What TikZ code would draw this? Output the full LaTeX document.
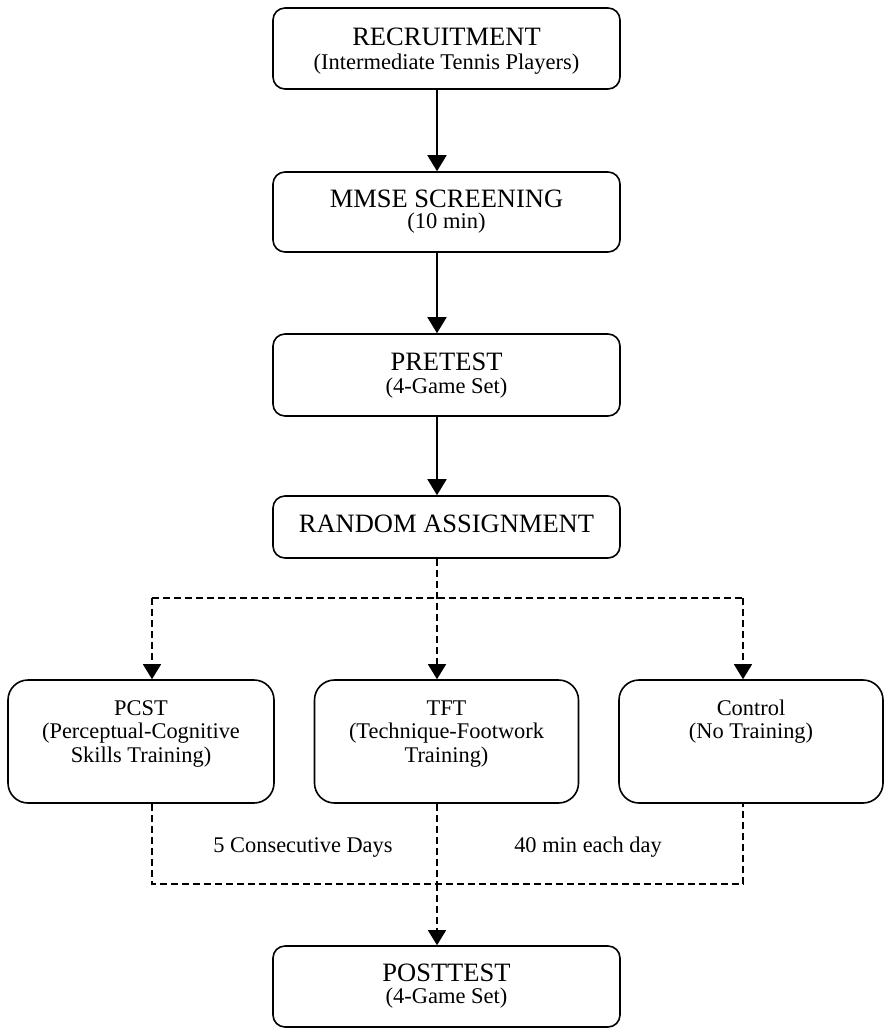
\documentclass[tikz,border=0pt]{standalone}
\usepackage{fontspec}
\setmainfont{Liberation Serif}
\usetikzlibrary{arrows.meta,calc}
\begin{document}
\begin{tikzpicture}[x=1pt,y=-1pt,
 box/.style={draw, rounded corners=12pt, line width=1.6pt, minimum width=347pt, inner sep=0pt},
 gbox/.style={draw, rounded corners=20pt, line width=1.6pt, minimum width=265pt, minimum height=123pt, inner sep=0pt},
 ttl/.style={font=\fontsize{26.5}{28}\selectfont, anchor=base, inner sep=0pt},
 sub/.style={font=\fontsize{22.5}{24}\selectfont, anchor=base, inner sep=0pt},
 gtxt/.style={font=\fontsize{22.4}{24}\selectfont, anchor=base, inner sep=0pt},
 arr/.style={line width=1.8pt, -{Triangle[length=16pt,width=19pt]}},
 darr/.style={line width=1.3pt, dash pattern=on 7pt off 4pt, -{Triangle[length=15pt,width=18pt]}},
 dln/.style={line width=1.3pt, dash pattern=on 7pt off 4pt}]
\useasboundingbox[fill=white] (0,0) rectangle (884,1028);

% boxes
\node[box, minimum height=81pt] (rec) at (446.5,48.5) {};
\node[box, minimum height=80pt] (mmse) at (446.5,212) {};
\node[box, minimum height=82pt] (pre) at (446.5,375) {};
\node[box, minimum height=62pt] (rand) at (446.5,527) {};
\node[gbox, minimum width=266pt] (pcst) at (141,741.5) {};
\node[gbox, minimum width=264pt] (tft) at (446.5,741.5) {};
\node[gbox, minimum width=264pt] (ctrl) at (751,741.5) {};
\node[box, minimum height=81pt] (post) at (446.5,986.5) {};

% texts
\node[ttl] (recT) at (446.5,45) {RECRUITMENT};
\node[sub] (recS) at (446.5,69) {(Intermediate Tennis Players)};
\node[ttl] (mmseT) at (446.5,207) {MMSE SCREENING};
\node[sub] (mmseS) at (446.5,228.5) {(10 min)};
\node[ttl] (preT) at (446.5,370) {PRETEST};
\node[sub] (preS) at (446.5,393) {(4-Game Set)};
\node[ttl] (randT) at (446.5,532) {RANDOM ASSIGNMENT};
\node[ttl] (postT) at (446.5,981.5) {POSTTEST};
\node[sub] (postS) at (446.5,1003) {(4-Game Set)};

\node[gtxt] (pcst1) at (141,715) {PCST};
\node[gtxt] (pcst2) at (141,738.5) {(Perceptual-Cognitive};
\node[gtxt] (pcst3) at (141,762.5) {Skills Training)};
\node[gtxt] (tft1) at (446.5,715) {TFT};
\node[gtxt] (tft2) at (446.5,738.5) {(Technique-Footwork};
\node[gtxt] (tft3) at (446.5,762.5) {Training)};
\node[gtxt] (ctrl1) at (751,715) {Control};
\node[gtxt] (ctrl2) at (751,738.5) {(No Training)};

\node[gtxt] (lab1) at (303,852) {5 Consecutive Days};
\node[gtxt] (lab2) at (588,852) {40 min each day};

% solid arrows
\draw[arr] ([xshift=-9.5pt]rec.south) -- ([xshift=-9.5pt]mmse.north);
\draw[arr] ([xshift=-9.5pt]mmse.south) -- ([xshift=-9.5pt]pre.north);
\draw[arr] ([xshift=-9.5pt]pre.south) -- ([xshift=-9.5pt]rand.north);

% dashed split
\coordinate (sl) at (152,598);
\coordinate (sr) at (743,598);
\draw[darr] ([xshift=-9.5pt]rand.south) -- ([xshift=-9.5pt]tft.north);
\draw[dln] (sl) -- (sr);
\draw[darr] (sl) -- (pcst.north -| sl);
\draw[darr] (sr) -- (ctrl.north -| sr);

% dashed merge
\coordinate (bl) at (152,884);
\coordinate (br) at (743,884);
\coordinate (bm) at (437,884);
\draw[dln] (pcst.south -| bl) -- (bl) -- (br) -- (ctrl.south -| br);
\draw[dln] ([xshift=-9.5pt]tft.south) -- (bm);
\draw[darr] (bm) -- (post.north -| bm);
\end{tikzpicture}
\end{document}
